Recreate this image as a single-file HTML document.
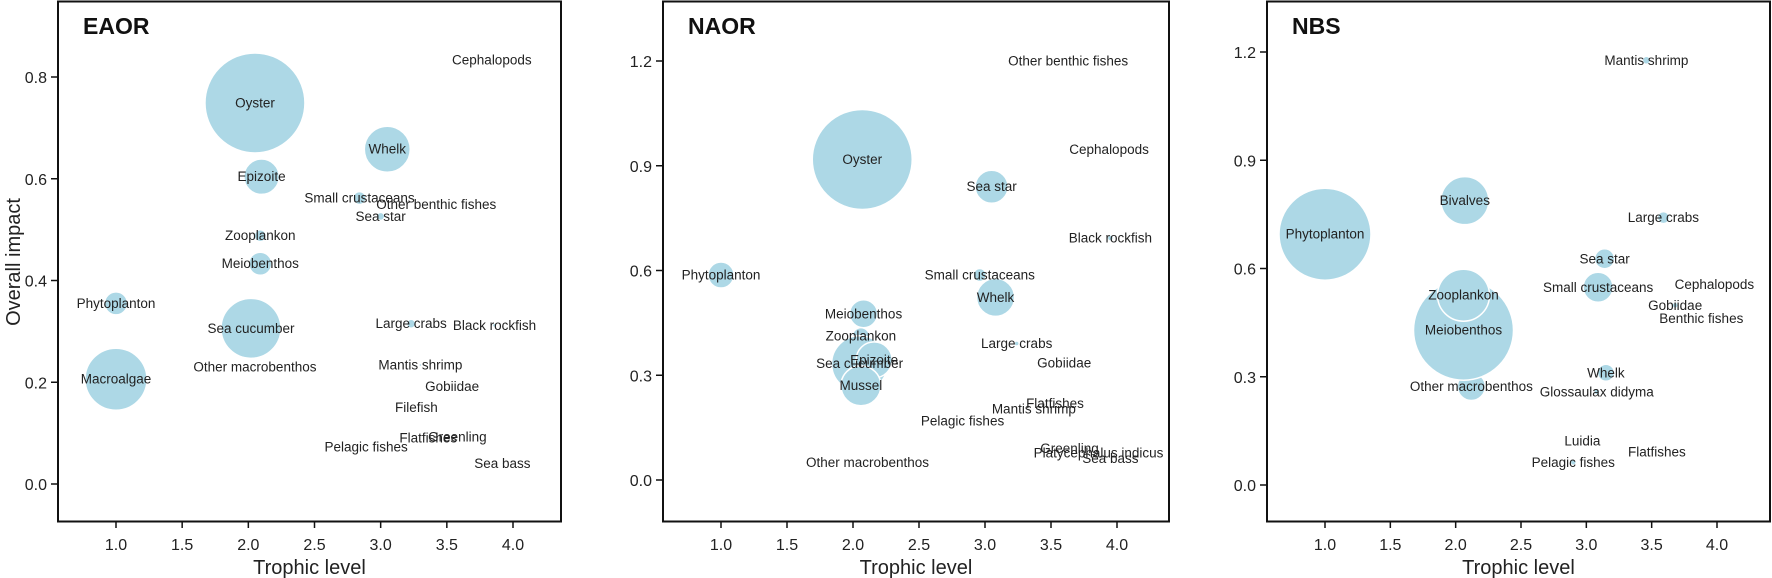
<!DOCTYPE html>
<html><head><meta charset="utf-8"><style>
body{margin:0;background:#fff;}
svg{display:block;font-family:"Liberation Sans",Arial,sans-serif;}
</style></head><body>
<svg id="chart" width="1772" height="578" viewBox="0 0 1772 578"></svg>
<script>
const xTicks=[1.0,1.5,2.0,2.5,3.0,3.5,4.0];
const eaorYTicks=[0.0,0.2,0.4,0.6,0.8];
const naorYTicks=[0.0,0.3,0.6,0.9,1.2];
const nbsYTicks=[0.0,0.3,0.6,0.9,1.2];

const eaorNames=["Oyster","Whelk","Epizoite","Small crustaceans","Sea star","Other benthic fishes","Cephalopods","Zooplankon","Meiobenthos","Phytoplanton","Sea cucumber","Other macrobenthos","Macroalgae","Large crabs","Black rockfish","Mantis shrimp","Gobiidae","Filefish","Flatfishes","Greenling","Pelagic fishes","Sea bass"];
const eaorX=[2.05,3.05,2.10,2.84,3.00,3.42,3.84,2.09,2.09,1.00,2.02,2.05,1.00,3.23,3.86,3.30,3.54,3.27,3.36,3.58,2.89,3.92];
const eaorY=[0.749,0.658,0.604,0.562,0.526,0.549,0.833,0.488,0.433,0.355,0.306,0.230,0.206,0.315,0.312,0.234,0.192,0.150,0.090,0.092,0.073,0.040];
const eaorSize=[50,23,17.7,6.5,4,1,1,6,11.5,11.5,30,1,31,4.5,2,1.5,1,1,1,1,1,1];

const naorNames=["Other benthic fishes","Oyster","Cephalopods","Sea star","Black rockfish","Phytoplanton","Small crustaceans","Whelk","Meiobenthos","Zooplankon","Large crabs","Gobiidae","Sea cucumber","Epizoite","Mussel","Flatfishes","Mantis shrimp","Pelagic fishes","Other macrobenthos","Greenling","Platycephalus indicus","Sea bass"];
const naorX=[3.63,2.07,3.94,3.05,3.95,1.00,2.96,3.08,2.08,2.06,3.24,3.60,2.05,2.16,2.06,3.53,3.37,2.83,2.11,3.64,3.86,3.95];
const naorY=[1.200,0.918,0.946,0.840,0.693,0.587,0.587,0.523,0.476,0.412,0.391,0.335,0.333,0.344,0.270,0.219,0.203,0.169,0.050,0.090,0.077,0.061];
const naorSize=[1,50,1,16.5,3,13,6.5,19,14,8.5,2.5,1,28,18,20,1,1,1,1,1,1,1];

const nbsNames=["Mantis shrimp","Phytoplanton","Bivalves","Large crabs","Sea star","Small crustaceans","Cephalopods","Other macrobenthos","Meiobenthos","Zooplankon","Gobiidae","Benthic fishes","Whelk","Glossaulax didyma","Luidia","Flatfishes","Pelagic fishes"];
const nbsX=[3.46,1.00,2.07,3.59,3.14,3.09,3.98,2.12,2.06,2.06,3.68,3.88,3.15,3.08,2.97,3.54,2.90];
const nbsY=[1.177,0.695,0.788,0.741,0.627,0.548,0.555,0.273,0.429,0.526,0.498,0.461,0.311,0.258,0.122,0.092,0.063];
const nbsSize=[4,46,24,6,10,15,1,14,50,26,3,1,8.5,3,1,1,3];

const NS="http://www.w3.org/2000/svg";
const svg=document.getElementById('chart');
function mk(tag,attrs,parent){const e=document.createElementNS(NS,tag);for(const k in attrs)e.setAttribute(k,attrs[k]);(parent||svg).appendChild(e);return e;}

function panel(cfg){
  const g=mk('g',{});
  
  
  const xs=v=>cfg.x1px+(v-1)*(cfg.x4px-cfg.x1px)/3;
  const ys=v=>cfg.y0px-(v)*(cfg.y0px-cfg.yTopPx)/cfg.yTopVal;
  const bg=mk('g',{},g);
  
  
  for(let i=0;i<cfg.names.length;i++){
    const c=mk('circle',{cx:xs(cfg.xv[i]),cy:ys(cfg.yv[i]),r:cfg.size[i],fill:'#add8e6',stroke:'#fff','stroke-width':1.5},bg);
    
    
  }
  const lg=mk('g',{},g);
  
  
  for(let i=0;i<cfg.names.length;i++){
    const t=mk('text',{x:xs(cfg.xv[i]),y:ys(cfg.yv[i])+4.5,'text-anchor':'middle','font-size':13.5,fill:'#222'},lg);
    t.textContent=cfg.names[i];
    
    
  }
  const box=mk('rect',{x:cfg.left,y:1.5,width:cfg.right-cfg.left,height:520,fill:'none',stroke:'#111','stroke-width':2},g);
  
  
  const xg=mk('g',{},g);
  
  
  xTicks.forEach(v=>{
    mk('line',{x1:xs(v),x2:xs(v),y1:521,y2:528,stroke:'#111','stroke-width':1.5},xg);
    const t=mk('text',{x:xs(v),y:550,'text-anchor':'middle','font-size':16,fill:'#222'},xg);
    t.textContent=v.toFixed(1);
    
    
  });
  const xt=mk('text',{x:(cfg.left+cfg.right)/2,y:574,'text-anchor':'middle','font-size':20,fill:'#222'},g);
  xt.textContent='Trophic level';
  
  
  const yg=mk('g',{},g);
  
  
  cfg.yTicks.forEach(v=>{
    mk('line',{x1:cfg.left-7,x2:cfg.left,y1:ys(v),y2:ys(v),stroke:'#111','stroke-width':1.5},yg);
    const t=mk('text',{x:cfg.left-11,y:ys(v)+6,'text-anchor':'end','font-size':16,fill:'#222'},yg);
    t.textContent=v.toFixed(1);
    
    
  });
  const tt=mk('text',{x:cfg.left+25,y:34,'font-size':23,'font-weight':'bold',fill:'#111'},g);
  tt.textContent=cfg.title;
  
  
}

panel({key:'eaor',title:'EAOR',left:58,right:561,x1px:116,x4px:513,y0px:484,yTopPx:77,yTopVal:0.8,yTicks:eaorYTicks,names:eaorNames,xv:eaorX,yv:eaorY,size:eaorSize});
panel({key:'naor',title:'NAOR',left:663,right:1169,x1px:721,x4px:1117,y0px:480,yTopPx:61,yTopVal:1.2,yTicks:naorYTicks,names:naorNames,xv:naorX,yv:naorY,size:naorSize});
panel({key:'nbs',title:'NBS',left:1267,right:1770,x1px:1325,x4px:1717,y0px:485,yTopPx:52,yTopVal:1.2,yTicks:nbsYTicks,names:nbsNames,xv:nbsX,yv:nbsY,size:nbsSize});

const yt=mk('text',{x:0,y:0,'text-anchor':'middle','font-size':20,fill:'#222',transform:'translate(20,262) rotate(-90)'});
yt.textContent='Overall impact';


</script>
</body></html>
